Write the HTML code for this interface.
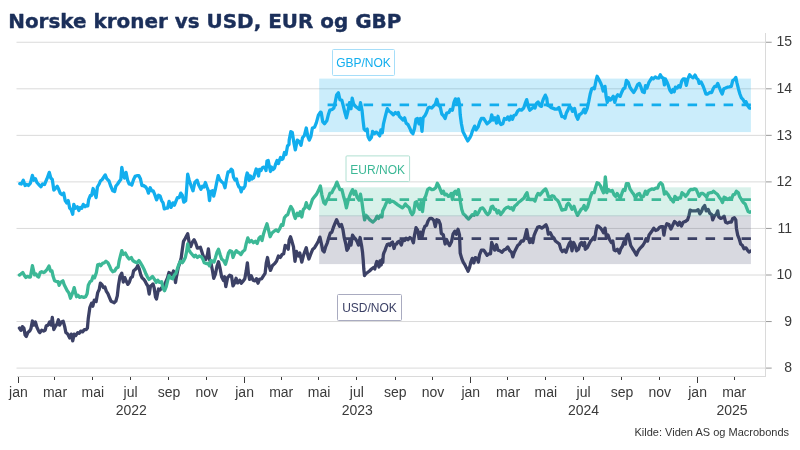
<!DOCTYPE html>
<html lang="no"><head><meta charset="utf-8"><title>Norske kroner vs USD, EUR og GBP</title>
<style>
html,body{margin:0;padding:0;background:#fff;}
body{width:800px;height:450px;overflow:hidden;position:relative;}
svg{position:absolute;left:0;top:0;display:block;will-change:transform;}
.ttl{font-family:"DejaVu Sans","Liberation Sans",sans-serif;font-weight:bold;font-size:20px;fill:#1b2f5a;stroke:#1b2f5a;stroke-width:0.4px;stroke-linejoin:round;}
.ax{font-family:"Liberation Sans",sans-serif;font-size:14px;fill:#3a3a3a;}
.lb{font-family:"Liberation Sans",sans-serif;font-size:12px;}
.src{font-family:"Liberation Sans",sans-serif;font-size:11px;fill:#333;}
</style></head><body>
<svg width="800" height="450" viewBox="0 0 800 450">
<rect x="0" y="0" width="800" height="450" fill="#ffffff"/>
<text class="ttl" x="8.2" y="27.5" textLength="393.2" lengthAdjust="spacingAndGlyphs">Norske kroner vs USD, EUR og GBP</text>
<g stroke="#dadada" stroke-width="1">
<line x1="16.5" x2="765.5" y1="368.1" y2="368.1"/>
<line x1="16.5" x2="765.5" y1="321.55" y2="321.55"/>
<line x1="16.5" x2="765.5" y1="275.0" y2="275.0"/>
<line x1="16.5" x2="765.5" y1="228.45" y2="228.45"/>
<line x1="16.5" x2="765.5" y1="181.9" y2="181.9"/>
<line x1="16.5" x2="765.5" y1="135.35" y2="135.35"/>
<line x1="16.5" x2="765.5" y1="88.8" y2="88.8"/>
<line x1="16.5" x2="765.5" y1="42.25" y2="42.25"/>
</g>
<g stroke="#dadada" stroke-width="1" shape-rendering="crispEdges">
<line x1="16.5" x2="765.5" y1="376.5" y2="376.5"/>
<line x1="765.5" x2="765.5" y1="33" y2="376.5"/>
</g>
<g stroke="#8c8c8c" stroke-width="0.9">
<line x1="766.0" x2="771.7" y1="368.1" y2="368.1"/>
<line x1="766.0" x2="771.7" y1="321.55" y2="321.55"/>
<line x1="766.0" x2="771.7" y1="275.0" y2="275.0"/>
<line x1="766.0" x2="771.7" y1="228.45" y2="228.45"/>
<line x1="766.0" x2="771.7" y1="181.9" y2="181.9"/>
<line x1="766.0" x2="771.7" y1="135.35" y2="135.35"/>
<line x1="766.0" x2="771.7" y1="88.8" y2="88.8"/>
<line x1="766.0" x2="771.7" y1="42.25" y2="42.25"/>
</g>
<g stroke="#3a3a3a" stroke-width="1" shape-rendering="crispEdges">
<line x1="18.5" x2="18.5" y1="377.0" y2="383.0"/>
<line x1="54.5" x2="54.5" y1="377.0" y2="380.0"/>
<line x1="92.5" x2="92.5" y1="377.0" y2="380.0"/>
<line x1="130.5" x2="130.5" y1="377.0" y2="380.0"/>
<line x1="168.5" x2="168.5" y1="377.0" y2="380.0"/>
<line x1="206.5" x2="206.5" y1="377.0" y2="380.0"/>
<line x1="244.5" x2="244.5" y1="377.0" y2="383.0"/>
<line x1="281.5" x2="281.5" y1="377.0" y2="380.0"/>
<line x1="318.5" x2="318.5" y1="377.0" y2="380.0"/>
<line x1="356.5" x2="356.5" y1="377.0" y2="380.0"/>
<line x1="395.5" x2="395.5" y1="377.0" y2="380.0"/>
<line x1="432.5" x2="432.5" y1="377.0" y2="380.0"/>
<line x1="470.5" x2="470.5" y1="377.0" y2="383.0"/>
<line x1="507.5" x2="507.5" y1="377.0" y2="380.0"/>
<line x1="545.5" x2="545.5" y1="377.0" y2="380.0"/>
<line x1="583.5" x2="583.5" y1="377.0" y2="380.0"/>
<line x1="621.5" x2="621.5" y1="377.0" y2="380.0"/>
<line x1="659.5" x2="659.5" y1="377.0" y2="380.0"/>
<line x1="697.5" x2="697.5" y1="377.0" y2="383.0"/>
<line x1="734.5" x2="734.5" y1="377.0" y2="380.0"/>
</g>
<g class="ax" text-anchor="middle">
<text x="18.4" y="397">jan</text>
<text x="55.0" y="397">mar</text>
<text x="92.8" y="397">mai</text>
<text x="130.6" y="397">jul</text>
<text x="169.0" y="397">sep</text>
<text x="206.8" y="397">nov</text>
<text x="244.6" y="397">jan</text>
<text x="281.2" y="397">mar</text>
<text x="319.0" y="397">mai</text>
<text x="356.8" y="397">jul</text>
<text x="395.2" y="397">sep</text>
<text x="433.0" y="397">nov</text>
<text x="470.8" y="397">jan</text>
<text x="508.0" y="397">mar</text>
<text x="545.8" y="397">mai</text>
<text x="583.6" y="397">jul</text>
<text x="622.0" y="397">sep</text>
<text x="659.8" y="397">nov</text>
<text x="697.6" y="397">jan</text>
<text x="734.2" y="397">mar</text>
<text x="131.3" y="414.7">2022</text>
<text x="357.3" y="414.7">2023</text>
<text x="583.6" y="414.7">2024</text>
<text x="732" y="414.7">2025</text>
</g>
<g class="ax" text-anchor="end">
<text x="792" y="372.2">8</text>
<text x="792" y="325.7">9</text>
<text x="792" y="279.1">10</text>
<text x="792" y="232.6">11</text>
<text x="792" y="186.0">12</text>
<text x="792" y="139.5">13</text>
<text x="792" y="92.9">14</text>
<text x="792" y="46.4">15</text>
</g>
<line x1="327.6" x2="750.9" y1="104.9" y2="104.9" stroke="#12aeee" stroke-width="2.8" stroke-dasharray="9.5 8.5"/>
<line x1="327.6" x2="750.9" y1="199.6" y2="199.6" stroke="#3cb896" stroke-width="2.8" stroke-dasharray="9.5 8.5"/>
<line x1="327.6" x2="750.9" y1="238.7" y2="238.7" stroke="#3c4166" stroke-width="2.8" stroke-dasharray="9.5 8.5"/>
<clipPath id="cp"><rect x="0" y="0" width="750.9" height="450"/></clipPath>
<g clip-path="url(#cp)">
<path d="M19.4,328.1 L20.9,330.3 L22.4,326.6 L23.9,328.1 L25.1,334.9 L26.3,336.4 L27.8,332.6 L29.6,331.1 L30.9,328.8 L32.4,321.0 L33.9,325.1 L35.4,322.0 L36.9,327.3 L38.7,331.1 L39.9,332.6 L41.7,330.3 L43.6,331.1 L45.1,330.3 L46.3,325.8 L48.1,325.1 L49.6,322.0 L51.1,325.1 L52.3,317.5 L53.8,329.6 L55.3,326.6 L56.9,324.3 L58.4,319.8 L59.6,325.1 L61.4,322.0 L63.2,321.3 L64.7,326.6 L65.9,332.6 L67.7,334.1 L69.7,337.9 L71.2,334.1 L72.7,340.9 L74.2,334.1 L75.7,335.6 L77.7,332.6 L79.2,333.4 L80.7,331.1 L82.5,331.9 L84.4,329.6 L86.3,329.6 L87.4,328.1 L88.3,318.2 L89.8,307.7 L91.6,303.1 L92.8,306.2 L94.3,300.1 L96.1,301.6 L97.7,292.6 L99.2,289.5 L100.4,283.1 L101.9,284.6 L103.4,287.6 L104.9,286.9 L106.4,291.4 L107.9,293.7 L109.4,297.4 L111.0,301.2 L112.8,302.0 L114.3,302.7 L115.8,301.2 L117.3,295.9 L118.5,285.3 L120.0,276.3 L121.8,273.2 L123.3,282.1 L124.8,277.6 L126.3,281.3 L127.9,284.4 L129.4,282.1 L130.9,277.6 L132.4,276.8 L133.6,270.8 L135.1,269.6 L136.6,268.0 L137.8,265.5 L139.3,269.2 L140.9,275.3 L142.2,278.0 L143.5,279.0 L145.0,281.0 L146.5,284.0 L147.8,286.0 L149.2,294.0 L150.5,286.0 L152.0,285.0 L153.0,284.0 L154.2,288.0 L155.5,297.0 L156.5,299.0 L157.5,294.0 L158.5,289.0 L160.0,290.0 L161.5,288.0 L162.8,286.8 L164.5,285.0 L166.2,281.0 L167.5,278.0 L169.0,272.5 L170.5,274.0 L172.0,275.0 L173.5,271.0 L174.5,275.0 L175.5,282.5 L176.2,278.0 L177.2,273.0 L178.2,267.7 L179.7,263.2 L181.2,257.9 L182.3,249.6 L183.5,241.3 L185.3,238.3 L186.5,236.0 L187.7,233.7 L189.2,242.8 L190.7,246.6 L192.5,242.0 L194.1,239.8 L195.6,242.8 L197.4,248.1 L198.9,247.8 L200.4,247.3 L202.4,253.4 L203.9,257.9 L205.8,259.4 L207.4,254.9 L208.4,248.8 L209.5,259.4 L211.0,263.2 L212.5,270.8 L213.7,278.3 L215.5,273.8 L217.0,266.2 L218.5,261.7 L220.1,268.5 L221.6,276.8 L223.5,280.6 L224.6,276.8 L225.8,286.6 L227.6,277.6 L229.6,275.3 L231.5,276.1 L233.0,285.9 L234.6,282.9 L236.1,278.3 L237.6,282.9 L239.4,281.3 L239.8,280.2 L241.3,283.2 L243.3,280.9 L244.8,278.7 L246.3,270.4 L247.4,262.8 L248.4,273.4 L249.6,279.4 L251.2,275.7 L253.0,280.2 L254.9,280.9 L256.4,278.7 L258.0,283.2 L259.5,279.4 L261.7,278.7 L263.6,275.7 L265.1,273.4 L266.3,262.8 L267.5,257.5 L269.0,265.8 L270.5,270.4 L272.3,265.8 L274.6,263.6 L276.5,261.3 L278.4,256.0 L280.2,257.5 L282.1,254.5 L283.7,253.7 L285.2,245.4 L287.1,246.2 L288.2,249.2 L289.2,240.1 L290.5,236.8 L292.0,241.6 L293.5,246.9 L295.0,261.3 L296.5,251.5 L298.3,256.0 L299.8,253.0 L301.8,262.1 L303.3,256.0 L304.8,251.5 L306.3,247.7 L307.8,255.2 L308.9,259.0 L310.9,253.7 L312.8,249.2 L314.6,247.7 L316.4,244.7 L318.4,240.9 L319.9,237.1 L321.2,242.8 L322.7,250.3 L324.2,251.9 L325.7,246.6 L327.3,242.8 L328.8,237.5 L330.3,233.0 L331.8,232.2 L333.3,227.7 L335.1,223.1 L336.6,219.8 L338.1,223.1 L339.6,226.2 L341.5,224.6 L343.0,229.9 L344.2,237.5 L345.7,243.5 L346.9,250.3 L348.4,248.1 L349.9,240.5 L351.0,245.1 L352.5,235.2 L354.0,237.5 L355.5,239.0 L357.0,241.3 L358.5,245.1 L360.1,237.5 L361.6,245.8 L362.5,252.0 L363.2,260.0 L363.8,269.0 L364.5,275.5 L365.5,274.0 L367.5,272.5 L369.5,271.0 L371.5,269.0 L373.5,267.5 L374.8,269.0 L375.8,264.5 L376.8,261.5 L378.0,264.0 L379.0,267.0 L380.0,261.0 L381.2,265.0 L382.2,259.5 L382.8,262.5 L383.3,255.0 L384.0,252.5 L384.8,251.0 L386.0,247.5 L387.2,244.5 L388.5,244.0 L389.8,245.5 L391.0,243.0 L392.5,242.0 L394.0,248.5 L395.2,244.5 L396.5,244.0 L397.8,242.0 L399.3,241.3 L401.3,245.1 L402.8,239.8 L404.6,240.5 L406.1,238.2 L408.0,239.8 L409.9,237.5 L411.9,239.0 L413.4,242.8 L414.5,235.2 L416.0,227.7 L417.5,229.9 L419.0,237.5 L420.5,232.2 L422.0,237.5 L423.5,229.9 L425.0,226.2 L426.5,225.4 L428.1,220.9 L430.0,218.3 L431.8,218.3 L433.8,220.3 L435.3,226.6 L436.8,219.8 L438.8,220.6 L440.3,224.4 L441.3,233.4 L443.3,234.9 L445.1,244.0 L446.6,239.5 L448.1,243.2 L449.6,245.5 L451.5,241.7 L453.0,234.2 L454.9,231.2 L456.4,234.2 L458.0,229.3 L459.5,234.9 L460.2,253.1 L461.7,258.4 L463.2,262.1 L465.1,265.2 L467.0,268.9 L468.1,271.2 L469.6,267.4 L470.8,262.1 L472.3,258.4 L473.8,262.9 L475.3,257.6 L477.2,258.4 L478.4,262.1 L479.6,254.6 L481.4,250.1 L483.7,250.1 L485.2,252.3 L487.1,255.3 L488.9,253.8 L490.5,253.8 L491.7,242.5 L493.2,246.3 L494.7,250.1 L496.5,244.8 L498.0,250.1 L499.8,250.8 L501.8,252.3 L503.8,250.1 L505.6,249.3 L507.8,247.0 L509.8,250.8 L511.6,252.3 L512.8,256.9 L514.3,252.3 L515.8,249.3 L517.7,245.5 L519.5,244.0 L521.4,241.0 L523.4,241.0 L524.9,237.2 L526.7,229.6 L528.2,238.0 L529.7,242.5 L531.3,241.0 L532.8,242.5 L534.0,235.7 L535.8,231.2 L537.6,227.4 L539.6,226.6 L541.8,228.1 L543.8,226.6 L546.0,224.8 L547.3,228.1 L548.3,234.2 L550.3,232.7 L552.1,236.4 L553.9,238.0 L555.4,241.0 L557.4,242.5 L559.3,244.0 L560.9,249.3 L562.4,251.6 L564.2,250.1 L566.0,252.3 L567.5,247.8 L569.0,244.0 L570.5,241.7 L572.0,250.8 L573.6,242.5 L575.1,245.5 L576.6,250.8 L578.5,249.3 L580.1,244.0 L581.6,242.5 L583.1,245.5 L584.6,242.5 L585.3,249.3 L587.2,247.8 L588.7,244.8 L590.2,241.7 L592.1,239.5 L593.7,237.2 L594.7,239.5 L595.9,231.2 L597.1,225.9 L598.9,226.6 L600.5,228.1 L602.3,230.4 L603.5,232.7 L605.0,228.1 L606.5,238.0 L608.0,234.9 L609.5,239.5 L611.3,242.5 L612.8,241.0 L614.1,250.1 L615.6,250.8 L617.4,249.3 L619.3,253.1 L620.9,248.5 L622.4,246.3 L623.9,241.7 L625.4,244.0 L626.4,236.4 L628.0,234.2 L629.5,240.2 L630.7,245.5 L632.5,248.5 L634.5,251.6 L636.4,255.0 L638.2,250.8 L640.5,247.8 L642.8,245.5 L644.6,242.5 L646.1,238.7 L647.6,241.0 L649.1,234.9 L651.8,231.3 L653.8,228.2 L655.7,230.5 L657.6,229.8 L659.4,227.5 L660.9,226.7 L662.8,226.7 L663.9,235.1 L665.1,228.2 L666.9,223.7 L668.9,224.5 L670.9,229.0 L672.7,225.2 L674.5,221.4 L676.4,223.0 L678.0,225.2 L679.5,222.2 L681.4,226.0 L683.2,222.2 L685.5,221.4 L687.5,219.9 L689.0,215.4 L690.1,210.1 L692.0,210.9 L693.8,210.9 L696.1,210.9 L698.1,209.7 L699.9,213.9 L701.4,211.6 L702.9,207.8 L704.7,205.6 L706.2,210.9 L708.2,209.4 L709.7,213.1 L711.7,214.6 L712.7,219.9 L714.7,215.4 L716.2,214.6 L717.7,210.9 L718.8,216.9 L720.7,218.4 L722.5,217.7 L724.1,216.2 L725.6,222.2 L727.4,223.0 L729.3,222.2 L731.3,222.2 L732.8,218.4 L734.3,217.7 L735.8,219.9 L736.4,228.2 L737.7,235.1 L739.2,238.8 L740.7,244.1 L742.5,245.6 L744.0,248.7 L746.0,247.9 L747.5,250.2 L749.0,252.1 L750.8,250.9" fill="none" stroke="#3c4166" stroke-width="3.3" stroke-linejoin="round" stroke-linecap="round"/>
<path d="M19.4,275.1 L20.9,274.0 L22.8,272.5 L24.4,275.5 L25.9,277.5 L27.4,276.3 L28.9,277.0 L30.4,277.0 L31.2,272.5 L32.4,265.7 L33.4,270.2 L34.5,274.8 L36.0,274.0 L37.5,276.3 L38.7,277.0 L40.2,272.5 L41.7,271.7 L43.6,272.5 L45.1,271.7 L47.0,269.5 L49.0,266.0 L50.5,271.0 L52.0,271.0 L53.1,276.3 L54.6,280.8 L56.5,281.6 L58.1,281.6 L59.1,285.3 L60.6,282.3 L62.9,280.8 L64.1,284.6 L65.6,287.6 L67.1,290.6 L68.9,292.9 L70.5,298.2 L72.0,294.4 L73.5,289.9 L74.2,287.6 L75.3,292.1 L76.5,296.7 L78.0,295.2 L79.5,297.4 L81.8,296.7 L83.8,297.4 L85.6,296.7 L87.1,293.7 L88.3,285.3 L90.1,281.6 L91.6,280.8 L93.1,276.3 L94.6,277.8 L96.4,272.5 L97.7,264.9 L99.5,264.2 L100.7,265.7 L102.5,263.4 L104.5,262.7 L106.0,261.2 L107.9,262.7 L109.4,265.7 L111.0,269.5 L112.8,271.7 L114.6,271.0 L116.5,268.0 L118.1,267.2 L119.1,261.2 L120.6,255.1 L121.8,250.6 L123.3,254.5 L125.3,253.0 L127.3,256.7 L129.1,259.0 L131.3,257.5 L132.8,260.5 L135.1,262.0 L136.9,262.8 L138.9,260.5 L140.9,263.5 L142.7,266.6 L144.5,270.3 L146.0,274.1 L147.5,277.1 L149.0,279.4 L151.0,277.9 L152.5,276.4 L154.5,279.4 L156.3,282.4 L157.8,280.2 L159.6,282.4 L161.6,281.7 L163.1,288.5 L164.6,290.7 L166.1,287.0 L167.6,280.9 L169.1,275.6 L170.6,277.9 L172.6,278.7 L174.4,274.9 L175.9,273.4 L177.4,268.8 L178.9,264.3 L180.5,261.3 L182.3,262.8 L183.8,260.5 L185.3,257.5 L186.5,252.2 L187.7,243.9 L188.8,249.9 L190.3,252.2 L192.2,254.5 L194.1,256.7 L195.6,255.2 L197.4,257.5 L199.3,256.0 L201.3,256.7 L202.8,259.0 L204.3,262.8 L206.1,263.5 L208.0,263.5 L209.5,265.8 L211.0,260.5 L212.5,261.3 L214.0,262.0 L215.5,257.5 L217.0,252.2 L218.5,249.2 L220.1,254.5 L221.6,259.0 L223.5,260.5 L225.5,264.3 L227.0,259.0 L228.5,253.0 L230.0,250.7 L231.8,251.5 L233.0,257.5 L234.8,253.0 L236.3,250.7 L237.9,252.2 L239.4,253.0 L240.9,254.5 L242.8,251.5 L244.8,250.0 L246.3,243.2 L247.8,237.9 L249.6,242.0 L251.5,240.5 L253.4,242.7 L255.4,241.2 L257.2,243.5 L259.0,238.2 L260.5,236.7 L262.0,240.5 L263.6,233.7 L265.1,229.1 L267.0,223.8 L268.5,229.9 L270.1,236.7 L272.0,232.9 L273.8,231.4 L276.1,229.9 L278.1,231.4 L279.9,228.4 L281.4,224.6 L282.9,225.3 L284.4,217.8 L286.2,215.5 L287.7,214.8 L289.2,210.2 L290.8,206.4 L292.7,209.5 L294.2,215.5 L295.3,218.5 L297.3,213.2 L298.8,215.5 L300.3,211.7 L301.8,217.0 L303.3,209.5 L304.8,208.0 L306.3,202.7 L307.8,207.2 L309.3,208.7 L310.9,204.2 L312.4,199.6 L314.6,196.6 L316.4,194.4 L318.4,190.6 L320.4,186.0 L321.9,195.1 L323.8,202.5 L325.3,204.0 L326.8,200.2 L328.3,198.0 L329.8,193.4 L331.8,192.7 L333.3,189.6 L335.1,186.6 L336.9,182.1 L338.4,185.9 L339.9,189.6 L341.9,189.6 L343.4,195.7 L344.9,201.0 L346.4,207.8 L348.0,201.0 L349.5,196.4 L351.0,192.7 L352.5,189.6 L354.0,194.2 L355.5,191.2 L357.0,197.2 L359.0,200.2 L360.5,194.2 L362.0,202.5 L363.1,210.8 L364.6,219.9 L366.1,215.3 L367.6,216.9 L369.9,219.9 L372.9,222.1 L375.2,219.9 L377.1,216.1 L378.6,218.4 L380.5,215.3 L382.0,216.9 L382.7,210.8 L384.2,207.8 L386.2,203.2 L388.0,200.2 L389.8,202.5 L391.8,201.0 L393.8,201.7 L395.6,203.2 L397.8,204.8 L400.1,206.3 L402.4,207.8 L403.9,206.3 L405.4,204.0 L407.4,206.3 L409.2,207.8 L410.7,212.3 L412.2,214.6 L413.7,212.3 L415.2,202.5 L416.7,201.7 L418.2,207.0 L419.7,209.3 L421.0,202.5 L422.5,211.6 L424.0,199.5 L425.8,195.7 L427.6,189.6 L429.6,188.1 L431.8,189.6 L433.8,189.3 L435.7,187.8 L437.3,183.3 L438.8,185.9 L440.3,189.6 L441.8,193.4 L443.3,191.2 L444.8,194.9 L446.6,194.2 L448.4,196.4 L449.9,195.7 L451.2,193.4 L452.4,199.5 L453.9,192.7 L455.4,191.2 L456.9,194.2 L458.4,189.6 L459.6,195.7 L460.5,202.5 L461.7,209.3 L463.2,213.8 L465.1,215.3 L467.0,217.6 L468.5,219.1 L470.5,216.9 L472.3,214.6 L474.1,215.3 L475.3,211.6 L477.2,214.6 L478.7,212.3 L480.6,208.5 L482.6,207.8 L484.4,210.1 L486.2,213.1 L487.7,214.6 L489.7,212.3 L491.2,207.0 L492.7,206.3 L494.2,209.3 L495.7,209.3 L497.3,213.1 L498.8,210.8 L500.7,214.6 L502.5,212.3 L504.4,209.3 L506.3,207.8 L508.3,207.0 L510.1,208.5 L511.6,207.8 L513.1,210.1 L514.6,206.3 L516.4,204.8 L518.4,202.5 L520.4,201.0 L522.2,199.5 L524.0,198.0 L525.5,194.9 L527.0,192.7 L528.2,198.0 L529.7,199.5 L531.6,199.5 L533.5,199.5 L535.0,201.0 L536.5,196.4 L538.1,193.4 L540.0,194.9 L541.8,192.7 L543.8,190.4 L545.7,188.9 L547.3,192.7 L548.3,196.4 L550.3,197.2 L552.1,195.7 L553.9,196.4 L555.4,198.7 L557.4,200.2 L558.9,202.5 L560.4,206.3 L561.9,210.1 L563.9,209.6 L565.7,209.3 L566.9,204.8 L568.4,203.2 L570.2,205.5 L572.0,209.3 L574.0,206.3 L575.5,210.8 L577.5,215.3 L579.3,212.3 L581.1,209.3 L582.6,208.5 L584.1,205.5 L585.6,210.1 L587.6,207.0 L589.1,201.7 L590.6,196.4 L592.1,192.7 L594.1,192.7 L595.6,187.4 L597.1,182.8 L598.9,183.6 L600.5,185.9 L602.0,189.6 L603.5,192.7 L604.7,185.1 L605.3,176.8 L606.2,185.1 L606.8,192.7 L608.3,189.6 L610.3,191.2 L612.2,190.4 L614.1,194.9 L615.6,196.4 L617.1,193.4 L618.9,196.4 L620.4,198.0 L621.9,193.4 L623.4,189.6 L624.9,190.4 L626.4,183.6 L628.4,183.6 L629.9,188.9 L631.9,191.9 L633.7,194.2 L635.5,198.0 L637.5,194.2 L639.4,193.4 L641.3,197.2 L643.5,196.4 L645.5,191.2 L647.0,194.2 L648.8,190.4 L651.8,188.9 L653.8,189.3 L655.7,188.1 L657.6,188.1 L659.1,184.4 L660.6,182.8 L662.4,184.4 L663.6,189.6 L664.4,194.2 L665.9,191.9 L667.8,194.2 L669.6,197.2 L671.5,199.5 L673.4,202.0 L674.9,196.4 L676.9,198.7 L678.7,198.0 L680.5,198.0 L682.0,192.7 L684.0,194.2 L685.5,196.4 L687.5,194.2 L689.0,191.2 L690.8,189.3 L692.6,189.6 L694.6,188.9 L696.1,189.3 L697.6,192.7 L699.1,196.4 L701.1,193.4 L702.9,193.4 L704.7,194.9 L706.7,197.2 L708.2,193.4 L710.2,192.7 L712.0,192.7 L713.5,191.2 L715.3,192.7 L717.3,194.2 L719.2,197.2 L721.0,199.5 L722.5,202.5 L724.1,197.2 L725.9,198.0 L727.8,199.5 L729.8,198.0 L731.6,198.7 L733.1,194.9 L734.9,194.2 L736.4,191.2 L738.4,192.7 L739.5,196.4 L741.4,199.5 L743.4,202.5 L745.2,204.0 L746.7,207.8 L748.2,211.6 L749.7,212.3 L751.0,211.6" fill="none" stroke="#3cb896" stroke-width="3.3" stroke-linejoin="round" stroke-linecap="round"/>
<path d="M19.8,183.6 L21.3,184.0 L23.3,180.2 L25.1,185.5 L26.9,184.5 L28.4,185.5 L30.4,183.2 L32.4,175.4 L33.9,180.2 L35.4,178.7 L36.9,182.5 L38.7,184.5 L41.0,186.7 L42.5,184.0 L44.5,184.5 L47.0,178.7 L49.3,172.4 L50.8,178.0 L52.3,179.5 L53.8,190.1 L55.3,188.5 L57.2,186.3 L58.7,189.3 L60.2,193.1 L62.1,194.6 L63.7,193.1 L65.2,200.6 L66.7,202.9 L68.2,200.6 L69.7,208.2 L71.2,209.7 L72.7,214.2 L73.8,204.4 L75.3,208.2 L77.3,206.7 L78.8,210.5 L80.3,207.4 L81.8,208.2 L83.3,204.4 L85.1,206.7 L86.8,205.2 L87.8,205.9 L88.6,199.9 L90.4,195.3 L91.6,195.3 L93.1,188.5 L94.6,193.1 L96.1,197.6 L97.4,187.0 L99.2,184.0 L100.4,181.0 L102.2,179.5 L105.2,174.9 L106.7,178.7 L109.0,181.0 L110.5,185.5 L112.8,190.8 L114.6,191.6 L115.8,186.3 L117.6,184.0 L119.6,181.0 L120.8,179.5 L121.8,167.4 L123.3,175.7 L124.5,178.0 L126.0,172.4 L127.6,180.2 L129.1,184.0 L130.6,184.0 L131.8,185.1 L133.6,179.5 L135.1,176.4 L136.9,175.7 L138.9,175.7 L140.4,178.7 L141.9,185.5 L143.4,185.5 L145.7,187.0 L147.2,189.3 L148.4,193.1 L150.2,187.8 L151.7,190.8 L153.2,190.8 L154.8,194.6 L156.6,199.9 L158.5,195.3 L160.1,196.1 L161.6,200.6 L163.1,202.9 L164.3,208.9 L166.1,208.2 L167.6,208.2 L169.1,201.4 L171.1,207.4 L172.9,202.9 L174.4,205.2 L175.6,202.1 L177.4,197.6 L179.2,197.6 L180.8,193.1 L182.3,195.3 L183.8,202.1 L185.7,200.6 L186.5,190.8 L187.7,174.2 L189.2,180.2 L191.0,185.5 L193.0,190.8 L194.8,182.5 L197.1,180.2 L198.6,184.8 L200.9,189.3 L202.4,186.3 L203.9,187.0 L205.4,182.5 L206.9,187.0 L208.4,190.8 L209.5,200.6 L210.7,191.6 L212.5,190.8 L213.7,196.1 L215.5,188.5 L216.7,182.5 L218.2,175.7 L219.7,179.5 L221.6,181.7 L223.5,183.2 L225.0,187.8 L226.5,179.0 L228.0,172.0 L229.5,171.8 L231.2,169.2 L232.5,170.5 L233.5,177.0 L235.0,180.0 L236.5,179.0 L237.5,183.5 L239.0,187.0 L240.0,187.5 L241.2,191.8 L242.2,188.0 L243.5,188.5 L245.0,186.0 L246.0,178.0 L247.2,173.0 L248.2,175.0 L249.2,180.5 L250.5,176.0 L252.0,179.0 L253.5,178.0 L255.0,173.0 L256.2,169.0 L257.5,171.0 L258.5,176.0 L259.5,169.5 L261.0,170.5 L262.2,168.0 L263.5,167.2 L265.0,167.5 L266.0,170.5 L267.0,161.0 L268.2,160.5 L269.5,167.0 L270.5,171.5 L271.5,167.0 L273.0,169.5 L274.5,168.0 L275.8,163.5 L277.0,160.5 L278.5,163.5 L279.5,160.0 L280.5,157.5 L282.0,159.5 L283.0,158.5 L284.5,152.5 L286.0,154.5 L287.5,146.0 L289.0,144.5 L289.2,140.1 L290.8,131.7 L292.3,132.5 L293.8,142.3 L295.3,149.9 L297.3,140.1 L299.2,141.6 L301.0,145.3 L302.5,137.8 L304.4,135.5 L306.3,128.0 L307.8,136.3 L309.3,140.1 L310.9,136.3 L312.4,128.0 L314.6,127.2 L316.4,122.7 L318.4,115.1 L320.4,112.1 L321.2,112.5 L322.7,121.6 L324.5,123.8 L326.8,120.8 L328.3,114.8 L329.8,110.2 L332.1,109.5 L333.9,108.0 L335.1,102.7 L336.6,95.1 L338.4,92.8 L339.9,99.6 L341.9,100.4 L343.4,106.4 L344.9,112.5 L346.4,117.8 L348.0,111.0 L349.5,102.7 L351.0,108.7 L352.2,98.1 L353.6,104.2 L355.5,106.4 L357.5,108.0 L359.3,109.5 L360.5,102.7 L362.0,110.2 L363.1,120.8 L364.1,129.1 L365.6,130.6 L367.2,129.1 L368.1,136.7 L369.6,139.7 L371.4,137.4 L372.6,131.4 L374.4,133.7 L376.2,132.1 L378.2,133.7 L379.7,135.9 L380.9,129.9 L382.3,132.9 L383.5,123.8 L385.3,116.3 L387.3,108.7 L388.8,111.0 L391.0,112.5 L393.3,114.8 L395.3,112.5 L397.1,114.0 L398.3,112.5 L399.3,116.3 L401.6,118.5 L403.1,120.1 L404.6,117.8 L406.1,123.1 L408.0,124.6 L409.9,128.4 L411.4,132.1 L412.9,133.7 L414.5,128.4 L416.0,119.3 L417.5,118.5 L419.0,123.8 L420.5,118.5 L422.0,131.4 L423.1,117.8 L425.0,115.5 L426.5,112.5 L428.1,108.0 L429.6,107.2 L431.8,108.0 L433.8,105.7 L435.3,104.2 L436.8,99.3 L438.3,104.9 L440.3,107.2 L441.8,114.0 L443.3,115.5 L445.1,118.5 L446.6,113.2 L448.9,112.5 L450.4,109.5 L452.4,110.2 L453.9,102.7 L455.4,98.9 L456.9,102.7 L458.4,98.9 L459.6,104.9 L460.2,114.8 L461.4,123.8 L462.9,131.4 L464.8,135.2 L466.3,138.2 L467.8,140.9 L469.6,138.2 L471.1,135.2 L472.6,130.6 L474.6,126.1 L476.1,129.9 L478.1,126.9 L479.6,122.3 L481.4,118.5 L483.7,118.5 L485.2,120.8 L487.1,123.8 L488.9,122.3 L490.5,120.8 L491.7,114.8 L493.2,120.1 L495.0,117.8 L496.5,123.1 L498.0,116.3 L499.5,122.3 L501.0,124.6 L502.8,123.8 L504.4,118.5 L506.3,119.3 L507.8,117.0 L509.3,120.1 L510.9,116.3 L512.4,119.3 L513.9,115.5 L515.8,114.8 L517.7,111.0 L519.5,109.5 L521.4,110.2 L523.7,108.0 L525.2,103.4 L526.7,99.6 L528.2,106.4 L529.7,110.2 L531.6,108.7 L533.5,107.2 L535.0,108.0 L536.5,103.4 L538.1,101.9 L540.0,105.7 L541.5,106.4 L541.5,104.6 L543.3,99.3 L545.3,95.1 L546.8,98.5 L547.6,105.3 L549.4,106.1 L551.3,107.6 L553.3,108.4 L555.1,109.1 L556.9,109.1 L558.9,107.6 L560.4,112.1 L561.9,116.7 L563.4,116.7 L564.9,118.2 L566.4,112.9 L568.0,109.9 L569.5,106.1 L571.4,108.4 L572.5,111.4 L574.5,108.4 L576.0,115.2 L577.8,119.2 L579.6,114.4 L581.1,113.7 L582.6,112.1 L584.1,109.1 L585.3,112.9 L587.2,108.4 L588.7,101.6 L590.2,94.0 L591.7,88.7 L593.2,88.0 L594.4,88.7 L595.9,81.2 L597.1,76.3 L598.9,79.6 L600.5,82.7 L602.0,86.4 L603.2,91.0 L605.0,86.4 L606.2,97.0 L607.3,102.3 L608.8,97.8 L610.3,100.1 L611.8,98.5 L613.3,96.3 L614.8,102.3 L616.3,97.0 L617.8,94.8 L620.1,96.3 L621.6,92.5 L623.4,88.7 L624.9,88.0 L626.4,80.4 L628.4,82.7 L629.9,87.2 L631.4,89.5 L633.7,92.5 L635.5,89.5 L637.5,84.9 L639.4,83.4 L641.0,87.2 L642.5,91.7 L644.3,92.5 L645.5,85.7 L647.0,88.0 L648.8,82.7 L651.8,77.8 L653.3,78.9 L655.3,76.9 L656.8,77.8 L658.8,78.1 L660.3,74.8 L661.8,77.4 L663.3,78.1 L664.4,84.9 L665.4,78.9 L666.9,81.9 L668.4,85.7 L669.9,90.2 L671.5,92.5 L673.0,89.5 L674.2,91.7 L675.4,87.2 L677.2,88.0 L678.7,85.7 L680.2,87.2 L681.7,81.2 L683.2,78.9 L684.8,78.9 L686.3,85.4 L687.8,78.9 L689.6,74.8 L691.1,76.6 L693.1,77.8 L695.0,75.1 L696.5,78.1 L698.1,79.6 L699.1,83.4 L701.1,81.9 L702.9,85.7 L704.4,89.5 L705.9,94.0 L707.7,94.0 L709.7,92.5 L711.7,92.5 L713.2,88.7 L714.7,86.4 L716.2,86.4 L717.7,83.4 L719.2,87.2 L720.7,91.0 L722.2,94.0 L723.8,88.7 L725.6,88.0 L727.4,87.2 L729.3,86.9 L731.3,86.4 L732.8,80.4 L734.3,79.6 L735.8,77.4 L736.9,82.7 L738.4,88.7 L739.9,94.0 L741.4,97.8 L742.9,99.3 L744.5,102.3 L746.0,101.6 L747.5,105.3 L749.4,108.1 L750.8,108.1" fill="none" stroke="#12aeee" stroke-width="3.3" stroke-linejoin="round" stroke-linecap="round"/>
</g>
<rect x="319.2" y="78.6" width="431.7" height="53.5" fill="#12aeee" fill-opacity="0.22"/>
<rect x="319.2" y="187.3" width="431.7" height="29" fill="#3cb896" fill-opacity="0.20"/>
<rect x="319.2" y="215.3" width="431.7" height="48.8" fill="#3a3f63" fill-opacity="0.195"/>
<rect x="332.5" y="49.5" width="62" height="26" rx="1" ry="1" fill="#ffffff" stroke="#a6def9" stroke-width="1"/>
<text class="lb" x="363.5" y="66.8" text-anchor="middle" fill="#12aeee">GBP/NOK</text>
<rect x="346" y="155.9" width="63.6" height="25.6" rx="1" ry="1" fill="#ffffff" stroke="#b0e0d2" stroke-width="1"/>
<text class="lb" x="377.7" y="173.8" text-anchor="middle" fill="#3cb896">EUR/NOK</text>
<rect x="337.5" y="294.5" width="64" height="26" rx="1" ry="1" fill="#ffffff" stroke="#a9abc0" stroke-width="1"/>
<text class="lb" x="369.5" y="311.8" text-anchor="middle" fill="#3c4166">USD/NOK</text>
<text class="src" x="789" y="436" text-anchor="end">Kilde: Viden AS og Macrobonds</text>
</svg>
</body></html>
